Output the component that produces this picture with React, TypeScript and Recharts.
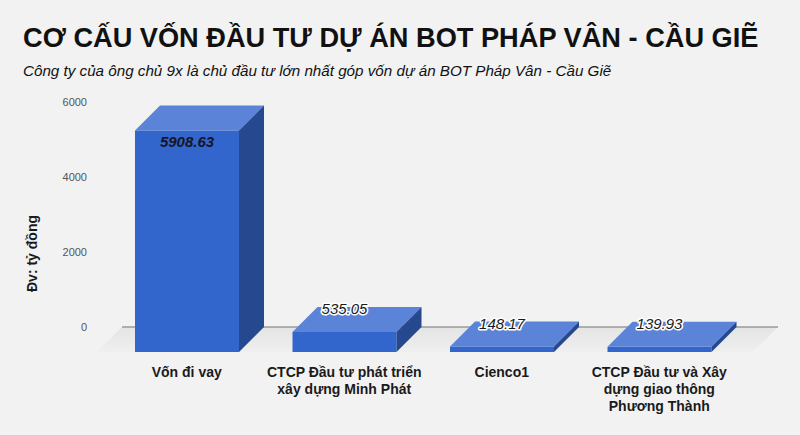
import React from "react";
import { BarChart, Bar, XAxis, YAxis, CartesianGrid, LabelList } from "recharts";

const TITLE = "CƠ CẤU VỐN ĐẦU TƯ DỰ ÁN BOT PHÁP VÂN - CẦU GIẼ";
const SUBTITLE = "Công ty của ông chủ 9x là chủ đầu tư lớn nhất góp vốn dự án BOT Pháp Vân - Cầu Giẽ";
const Y_LABEL = "Đv: tỷ đồng";

const CATEGORIES = [
  "Vốn đi vay",
  "CTCP Đầu tư phát triển\nxây dựng Minh Phát",
  "Cienco1",
  "CTCP Đầu tư và Xây\ndựng giao thông\nPhương Thành",
];
const VALUES = [5908.63, 535.05, 148.17, 139.93];
const Y_TICKS = [0, 2000, 4000, 6000];

const data = CATEGORIES.map((name, i) => ({ name, value: VALUES[i] }));

// depth of the fake 3D extrusion (px)
const D = 25;
const FONT = "'Liberation Sans', Arial, sans-serif";
const BLUE = { front: "#3366cc", top: "#5b84d8", side: "#25488f" };

function Bar3D(props: any) {
  const { x, y, width: w, height: h } = props;
  const fx = x - D;
  const fy = y + D;
  return (
    <g>
      <rect x={fx} y={fy} width={w} height={Math.max(h, 0)} fill={BLUE.front} />
      <polygon
        points={`${fx},${fy} ${fx + w},${fy} ${x + w},${y} ${x},${y}`}
        fill={BLUE.top}
      />
      <polygon
        points={`${fx + w},${fy} ${x + w},${y} ${x + w},${y + h} ${fx + w},${fy + h}`}
        fill={BLUE.side}
      />
    </g>
  );
}

function ValueLabel(props: any) {
  const vb = props.viewBox || {};
  const x = props.x ?? vb.x;
  const y = props.y ?? vb.y;
  const width = props.width ?? vb.width;
  const height = props.height ?? vb.height;
  const cx = x - D + width / 2;
  if (height > 40) {
    return (
      <text
        x={cx}
        y={y + D + 11}
        textAnchor="middle"
        dominantBaseline="central"
        fontFamily={FONT}
        fontSize={15}
        fontStyle="italic"
        fontWeight={700}
        fill="#15152a"
      >
        {props.value}
      </text>
    );
  }
  return (
    <text
      x={cx}
      y={y + 2}
      textAnchor="middle"
      dominantBaseline="central"
      fontFamily={FONT}
      fontSize={15}
      fontStyle="italic"
      fill="#1a1a1a"
      stroke="#ffffff"
      strokeWidth={3}
      strokeLinejoin="round"
      paintOrder="stroke"
    >
      {props.value}
    </text>
  );
}

function CategoryTick(props: any) {
  const { x, y, payload } = props;
  const lines = String(payload.value).split("\n");
  return (
    <text
      x={x - D}
      y={y}
      textAnchor="middle"
      fontFamily={FONT}
      fontSize={14}
      fontWeight={700}
      fill="#1a1a1a"
    >
      {lines.map((l, i) => (
        <tspan key={i} x={x - D} dy={i === 0 ? 50 : 17}>
          {l}
        </tspan>
      ))}
    </text>
  );
}

// zero line with a shaded floor under it
function FloorLine(p: any) {
  const bottom = p.height != null && p.y != null ? p.y + p.height : null;
  const isZero = bottom != null ? Math.abs(p.y1 - bottom) < 1 : p.index === 0;
  if (!isZero) return <g key={p.key} />;
  const x1 = p.x1 - 11;
  const x2 = p.x2 + 15;
  const yy = p.y1;
  return (
    <g key={p.key}>
      <defs>
        <linearGradient id="floorGrad" x1="0" y1="0" x2="0" y2="1">
          <stop offset="0%" stopColor="#e4e4e4" />
          <stop offset="100%" stopColor="#efefef" />
        </linearGradient>
      </defs>
      <polygon
        points={`${x1},${yy} ${x2},${yy} ${x2 - D},${yy + D} ${x1 - D},${yy + D}`}
        fill="url(#floorGrad)"
      />
      <line x1={x1} y1={yy} x2={x2} y2={yy} stroke="#9a9a9a" strokeWidth={1.3} />
    </g>
  );
}

function YLabel(props: any) {
  const vb = props.viewBox;
  const cx = vb.x + 32;
  const cy = vb.y + vb.height / 2 + 39;
  return (
    <text
      x={cx}
      y={cy}
      transform={`rotate(-90, ${cx}, ${cy})`}
      textAnchor="middle"
      dominantBaseline="central"
      fontFamily={FONT}
      fontSize={14}
      fontWeight={700}
      fill="#1a1a1a"
    >
      {Y_LABEL}
    </text>
  );
}

export default function App() {
  return (
    <div
      style={{
        position: "fixed",
        left: 0,
        top: 0,
        width: 800,
        height: 435,
        background: "#f2f2f2",
        overflow: "hidden",
        fontFamily: FONT,
      }}
    >
      <div
        style={{
          position: "absolute",
          left: 23,
          top: 24,
          fontSize: 27.2,
          lineHeight: "27px",
          fontWeight: 700,
          color: "#111",
          whiteSpace: "nowrap",
        }}
      >
        {TITLE}
      </div>
      <div
        style={{
          position: "absolute",
          left: 23,
          top: 63,
          fontSize: 15.2,
          lineHeight: "15px",
          fontStyle: "italic",
          color: "#111",
          whiteSpace: "nowrap",
        }}
      >
        {SUBTITLE}
      </div>
      <div style={{ position: "absolute", left: 0, top: 0 }}>
        <BarChart
          width={800}
          height={435}
          data={data}
          margin={{ top: 102, right: 37, bottom: 48, left: 0 }}
        >
          <CartesianGrid vertical={false} horizontal={FloorLine} />
          <XAxis
            dataKey="name"
            height={60}
            interval={0}
            axisLine={false}
            tickLine={false}
            tickSize={0}
            tickMargin={0}
            tick={<CategoryTick />}
          />
          <YAxis
            width={133}
            domain={[0, 6000]}
            ticks={Y_TICKS}
            axisLine={false}
            tickLine={false}
            tickSize={0}
            tickMargin={46}
            tick={{ fontSize: 11, fill: "#555", fontFamily: FONT }}
            label={{ content: YLabel }}
          />
          <Bar dataKey="value" barSize={104} shape={Bar3D} isAnimationActive={false}>
            <LabelList dataKey="value" content={ValueLabel} />
          </Bar>
        </BarChart>
      </div>
    </div>
  );
}
